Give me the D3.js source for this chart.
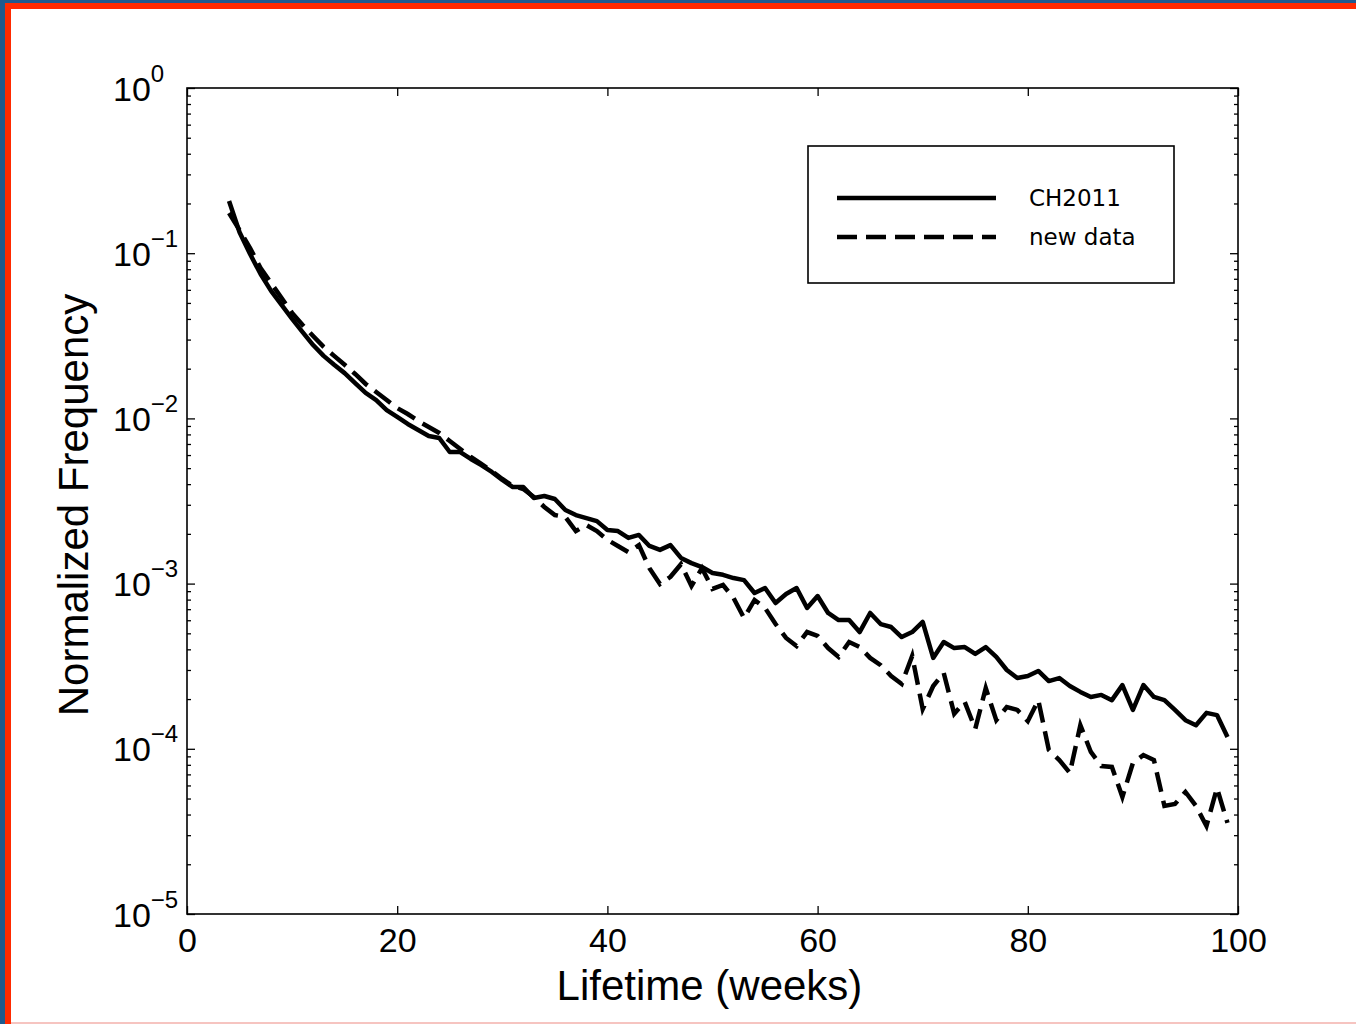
<!DOCTYPE html>
<html>
<head>
<meta charset="utf-8">
<script src="https://cdnjs.cloudflare.com/ajax/libs/d3/7.8.5/d3.min.js"></script>
<style>
  html, body { margin: 0; padding: 0; background: #fff; }
  svg { display: block; }
</style>
</head>
<body>
<div id="chart"></div>
<script>
// weeks on the x axis
var weeks = [4, 5, 6, 7, 8, 9, 10, 11, 12, 13, 14, 15, 16, 17, 18, 19, 20, 21, 22, 23,
  24, 25, 26, 27, 28, 29, 30, 31, 32, 33, 34, 35, 36, 37, 38, 39, 40, 41, 42, 43,
  44, 45, 46, 47, 48, 49, 50, 51, 52, 53, 54, 55, 56, 57, 58, 59, 60, 61, 62, 63,
  64, 65, 66, 67, 68, 69, 70, 71, 72, 73, 74, 75, 76, 77, 78, 79, 80, 81, 82, 83,
  84, 85, 86, 87, 88, 89, 90, 91, 92, 93, 94, 95, 96, 97, 98, 99];

// CH2011 (solid)
var ch2011 = [0.207, 0.134, 0.0989, 0.0748, 0.0591, 0.0486, 0.0400, 0.0333, 0.0278, 0.0239,
  0.0211, 0.0188, 0.01637, 0.01425, 0.01292, 0.01124, 0.01020, 0.00925, 0.00851, 0.00782,
  0.00761, 0.00626, 0.00626, 0.00568, 0.00522, 0.00474, 0.00424, 0.00384, 0.00384, 0.00330,
  0.00339, 0.00325, 0.00279, 0.00260, 0.00249, 0.00239, 0.00211, 0.00208, 0.00189, 0.00197,
  0.00169, 0.00160, 0.00171, 0.00143, 0.00133, 0.00126, 0.00116, 0.00113, 0.00108, 0.00105,
  0.000877, 0.000940, 0.000763, 0.000865, 0.000940, 0.000712, 0.000841, 0.000664, 0.000602, 0.000602,
  0.000509, 0.000664, 0.000569, 0.000546, 0.000475, 0.000509, 0.000586, 0.000355, 0.000443, 0.000407,
  0.000413, 0.000375, 0.000413, 0.000360, 0.000300, 0.000268, 0.000276, 0.000296, 0.000257, 0.000268,
  0.000240, 0.000221, 0.000206, 0.000212, 0.000197, 0.000243, 0.000172, 0.000243, 0.000206, 0.000197,
  0.000172, 0.000149, 0.000139, 0.000165, 0.000160, 0.000118];

// new data (dashed)
var newData = [0.175, 0.138, 0.1075, 0.0813, 0.0660, 0.0535, 0.0435, 0.0368, 0.0315, 0.0271,
  0.0239, 0.0211, 0.01857, 0.01616, 0.01445, 0.01292, 0.01156, 0.01063, 0.00965, 0.00887,
  0.00816, 0.00730, 0.00653, 0.00584, 0.00530, 0.00480, 0.00430, 0.00390, 0.00374, 0.00334,
  0.00291, 0.00260, 0.00253, 0.00208, 0.00226, 0.00208, 0.00184, 0.00169, 0.00155, 0.00171,
  0.00124, 0.000994, 0.00110, 0.00131, 0.000967, 0.00124, 0.000928, 0.000981, 0.000818, 0.000619,
  0.000796, 0.000712, 0.000569, 0.000469, 0.000419, 0.000509, 0.000482, 0.000407, 0.000360, 0.000443,
  0.000413, 0.000355, 0.000321, 0.000276, 0.000247, 0.000365, 0.000174, 0.000240, 0.000288, 0.000163,
  0.000192, 0.000132, 0.000233, 0.000149, 0.000179, 0.000172, 0.000147, 0.000197, 0.0000984, 0.0000855,
  0.0000714, 0.000139, 0.0000957, 0.0000787, 0.0000777, 0.0000511, 0.0000820, 0.0000917, 0.0000855, 0.0000451,
  0.0000463, 0.0000548, 0.0000451, 0.0000341, 0.0000579, 0.0000356];

var xTicks = [0, 20, 40, 60, 80, 100];
var yExponents = [0, -1, -2, -3, -4, -5];
var seriesNames = ['CH2011', 'new data'];

var W = 1356, H = 1024;
var margin = { top: 88, right: 118, bottom: 110, left: 187 },
  width = W - margin.left - margin.right,
  height = H - margin.top - margin.bottom;

var svg = d3.select('#chart')
  .append('svg')
    .attr('width', W)
    .attr('height', H);

// slide frame: blue backdrop, red border, white page
svg.append('rect').attr('width', W).attr('height', H).attr('fill', '#1f5a8e');
svg.append('rect').attr('x', 5).attr('y', 3).attr('width', W - 5).attr('height', H - 3).attr('fill', '#ff2a00');
svg.append('rect').attr('x', 11).attr('y', 9).attr('width', W - 11).attr('height', H - 11).attr('fill', '#ffffff');
svg.append('rect').attr('x', 11).attr('y', H - 2).attr('width', W - 11).attr('height', 2).attr('fill', '#f6c4c0');

var g = svg.append('g')
  .attr('transform', 'translate(' + margin.left + ',' + margin.top + ')');

var x = d3.scaleLinear().domain([0, 100]).range([0, width]);
var y = d3.scaleLog().domain([1e-5, 1]).range([height, 0]);

var majorY = yExponents.map(e => Math.pow(10, e));
var minorY = [];
yExponents.slice(1).forEach(function (e) {
  for (var m = 2; m <= 9; m++) minorY.push(m * Math.pow(10, e));
});

var font = "'Liberation Sans', Arial, Helvetica, sans-serif";

// bottom axis with labels
var xAxis = g.append('g')
  .attr('transform', 'translate(0,' + height + ')')
  .call(d3.axisBottom(x).tickValues(xTicks).tickSizeInner(-8).tickSizeOuter(0).tickPadding(14));
xAxis.selectAll('text')
  .attr('font-family', font).attr('font-size', 34).attr('fill', '#000');

// top axis, ticks only
g.append('g')
  .call(d3.axisTop(x).tickValues(xTicks).tickSizeInner(-8).tickSizeOuter(0).tickFormat(''));

// left axis, major + minor
var yAxis = g.append('g')
  .call(d3.axisLeft(y).tickValues(majorY).tickSizeInner(-8).tickSizeOuter(0).tickFormat(''));
g.append('g')
  .call(d3.axisLeft(y).tickValues(minorY).tickSizeInner(-4).tickSizeOuter(0).tickFormat(''));

// right axis, major + minor
g.append('g')
  .attr('transform', 'translate(' + width + ',0)')
  .call(d3.axisRight(y).tickValues(majorY).tickSizeInner(-8).tickSizeOuter(0).tickFormat(''));
g.append('g')
  .attr('transform', 'translate(' + width + ',0)')
  .call(d3.axisRight(y).tickValues(minorY).tickSizeInner(-4).tickSizeOuter(0).tickFormat(''));

g.selectAll('.domain').remove();
g.selectAll('.tick line').attr('stroke', '#000').attr('stroke-width', 1.3);

// 10^n labels with superscripts
yAxis.selectAll('.tick text')
  .attr('x', -74)
  .attr('dy', 12)
  .attr('text-anchor', 'start')
  .attr('font-family', font)
  .attr('font-size', 34)
  .attr('fill', '#000')
  .each(function (d) {
    var t = d3.select(this);
    var e = Math.round(Math.log10(d));
    t.append('tspan').text('10');
    t.append('tspan').attr('font-size', 24).attr('dy', -19)
      .text(e < 0 ? '\u2212' + (-e) : String(e));
  });

// frame
g.append('rect')
  .attr('width', width).attr('height', height)
  .attr('fill', 'none').attr('stroke', '#000').attr('stroke-width', 1.6);

var line = d3.line()
  .x(function (d) { return x(d[0]); })
  .y(function (d) { return y(d[1]); });

var lw = 4.5, dash = '20,9';

g.append('path')
  .datum(weeks.map((w, i) => [w, newData[i]]))
  .attr('d', line)
  .attr('fill', 'none').attr('stroke', '#000').attr('stroke-width', lw)
  .attr('stroke-dasharray', dash);

g.append('path')
  .datum(weeks.map((w, i) => [w, ch2011[i]]))
  .attr('d', line)
  .attr('fill', 'none').attr('stroke', '#000').attr('stroke-width', lw)
  .attr('stroke-linejoin', 'round');

// axis titles
svg.append('text')
  .attr('x', margin.left + width / 2 - 3).attr('y', 1000)
  .attr('text-anchor', 'middle')
  .attr('font-family', font).attr('font-size', 42)
  .text('Lifetime (weeks)');

svg.append('text')
  .attr('transform', 'translate(88,' + (margin.top + height / 2 + 4) + ') rotate(-90)')
  .attr('text-anchor', 'middle')
  .attr('font-family', font).attr('font-size', 42)
  .text('Normalized Frequency');

// legend
var legend = svg.append('g').attr('transform', 'translate(808,146)');
legend.append('rect')
  .attr('width', 366).attr('height', 137)
  .attr('fill', '#fff').attr('stroke', '#000').attr('stroke-width', 1.6);

seriesNames.forEach(function (name, i) {
  var ly = 52 + i * 39;
  legend.append('line')
    .attr('x1', 29).attr('x2', 188).attr('y1', ly).attr('y2', ly)
    .attr('stroke', '#000').attr('stroke-width', lw)
    .attr('stroke-dasharray', i === 1 ? dash : null);
  legend.append('text')
    .attr('x', 221).attr('y', ly + 8)
    .attr('font-family', "'DejaVu Sans', sans-serif").attr('font-size', 23)
    .text(name);
});
</script>
</body>
</html>
